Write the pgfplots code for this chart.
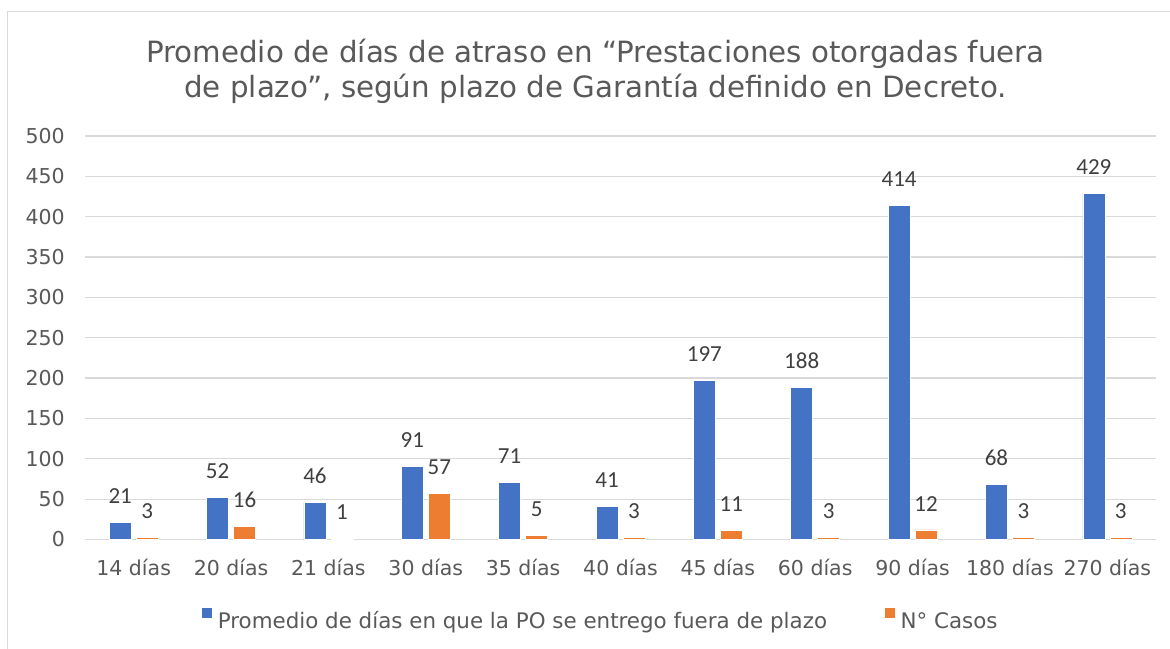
\documentclass[border=0pt]{standalone}
\usepackage{fontspec}
\setmainfont{DejaVu Sans}
\newfontfamily\carlito{Carlito}
\usepackage{pgfplots}
\pgfplotsset{compat=1.18}
\definecolor{cblue}{HTML}{4472C4}
\definecolor{corange}{HTML}{ED7D31}
\definecolor{txt}{HTML}{595959}
\definecolor{lbl}{HTML}{404040}
\definecolor{gridc}{HTML}{D9D9D9}
\begin{document}
\begin{tikzpicture}[x=1pt,y=1pt]
\useasboundingbox (0,0) rectangle (1170,-648);
\fill[white] (0,0) rectangle (1170,-648);
\draw[gridc, line width=1.3pt] (7.5,-660) -- (7.5,-11.5) -- (1180,-11.5);
\node[anchor=base, text=txt, font=\fontsize{29.3}{34}\selectfont, inner sep=0pt] at (595.5,-62) {Promedio de días de atraso en “Prestaciones otorgadas fuera};
\node[anchor=base, text=txt, font=\fontsize{29.3}{34}\selectfont, inner sep=0pt] at (595.5,-97.5) {de plazo”, según plazo de Garantía definido en Decreto.};
\begin{axis}[
  at={(85pt,-539.5pt)}, anchor=south west,
  scale only axis, width=1071pt, height=403.5pt,
  ybar, bar width=22pt,
  xmin=-0.5, xmax=10.5, ymin=0, ymax=500,
  ytick={0,50,...,500},
  xtick={0,...,10},
  xticklabels={14 días,20 días,21 días,30 días,35 días,40 días,45 días,60 días,90 días,180 días,270 días},
  axis line style={draw=none},
  major tick length=0pt,
  tick style={draw=none},
  ymajorgrids, grid style={gridc, line width=1.3pt},
  /pgf/number format/assume math mode=true,
  xticklabel style={font=\fontsize{20.5}{24}\selectfont, text=txt, anchor=base, inner sep=0pt, yshift=-35.5pt},
  yticklabel style={font=\fontsize{20.5}{24}\selectfont, text=txt, anchor=east, inner sep=0pt, xshift=-20pt},
  legend columns=2,
  legend style={draw=none, fill=none, at={(0.1083,-0.1945)}, anchor=west, inner sep=0pt,
    nodes={inner sep=0pt, text depth=0pt, text=txt, font=\fontsize{21.4}{25}\selectfont},
    /tikz/every odd column/.append style={column sep=5pt},
    /tikz/every even column/.append style={column sep=57pt}},
  legend cell align=left,
  legend image code/.code={\fill[#1] (0pt,1.5pt) rectangle (11pt,12.5pt);},
  nodes near coords,
  nodes near coords style={font=\carlito\fontsize{23}{27}\selectfont, text=lbl, anchor=south, inner sep=0pt, yshift=18.5pt},
]
\addplot[fill=cblue, draw=white, line width=0.6pt, bar shift=-13.5pt] coordinates {
(0,21) (1,52) (2,46) (3,91) (4,71) (5,41) (6,197) (7,188) (8,414) (9,68) (10,429)};
\addplot[fill=corange, draw=white, line width=0.6pt, bar shift=13.5pt] coordinates {
(0,3) (1,16) (2,1) (3,57) (4,5) (5,3) (6,11) (7,3) (8,12) (9,3) (10,3)};
\legend{Promedio de días en que la PO se entrego fuera de plazo, N° Casos}
\end{axis}
\end{tikzpicture}
\end{document}
